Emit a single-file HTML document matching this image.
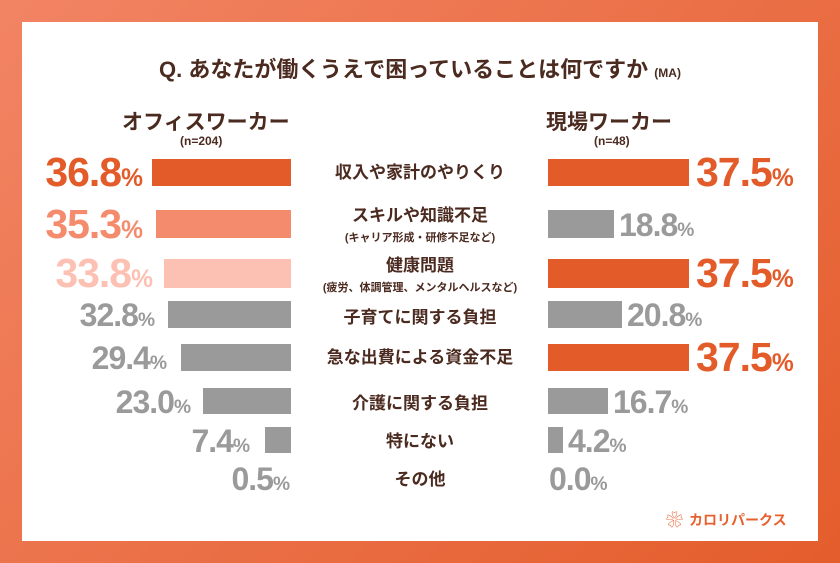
<!DOCTYPE html>
<html><head><meta charset="utf-8"><style>
body{margin:0;width:840px;height:563px;overflow:hidden;background:linear-gradient(135deg,#f28464,#e45d2c);font-family:"Liberation Sans","Noto Sans CJK JP",sans-serif;}
.panel{position:absolute;left:22px;top:22px;width:796px;height:519px;background:#fff;}
.a{position:absolute;white-space:nowrap;}
.t{color:#4b2a1f;font-weight:bold;}
.bar{position:absolute;}
.p{position:absolute;font-weight:bold;white-space:nowrap;line-height:1;letter-spacing:-1px;}
.l{text-align:right;}
.p small{font-size:0.6em;letter-spacing:0;}
.big{font-size:41px;}
.g{font-size:32px;color:#9a9a9a;}
.c{position:absolute;left:290px;width:260px;text-align:center;color:#4b2a1f;font-weight:bold;line-height:1.15;font-size:17px;}
.c span{font-size:11px;}
</style></head><body>
<div class="panel"></div>
<div class="a t" style="left:0;width:840px;text-align:center;top:52px;font-size:22px;">Q. あなたが働くうえで困っていることは何ですか <span style="font-size:12px">(MA)</span></div>
<div class="a t" style="left:122px;top:106px;font-size:21px;">オフィスワーカー</div>
<div class="a t" style="left:180px;top:134px;font-size:12px;">(n=204)</div>
<div class="a t" style="left:546px;top:106px;font-size:21px;">現場ワーカー</div>
<div class="a t" style="left:594px;top:134px;font-size:12px;">(n=48)</div>

<div class="bar" style="left:152px;top:159px;width:139px;height:27px;background:#e35b28"></div>
<div class="bar" style="left:156px;top:210px;width:135px;height:28px;background:#f58b6d"></div>
<div class="bar" style="left:164px;top:259px;width:127px;height:29px;background:#fdc1b4"></div>
<div class="bar" style="left:168px;top:301px;width:123px;height:27px;background:#9a9a9a"></div>
<div class="bar" style="left:181px;top:344px;width:110px;height:27px;background:#9a9a9a"></div>
<div class="bar" style="left:203px;top:388px;width:88px;height:26px;background:#9a9a9a"></div>
<div class="bar" style="left:265px;top:427px;width:26px;height:26px;background:#9a9a9a"></div>

<div class="bar" style="left:548px;top:159px;width:141px;height:27px;background:#e35b28"></div>
<div class="bar" style="left:548px;top:210px;width:66px;height:28px;background:#9a9a9a"></div>
<div class="bar" style="left:548px;top:259px;width:141px;height:29px;background:#e35b28"></div>
<div class="bar" style="left:548px;top:301px;width:74px;height:27px;background:#9a9a9a"></div>
<div class="bar" style="left:548px;top:344px;width:141px;height:27px;background:#e35b28"></div>
<div class="bar" style="left:548px;top:388px;width:60px;height:26px;background:#9a9a9a"></div>
<div class="bar" style="left:548px;top:427px;width:15px;height:26px;background:#9a9a9a"></div>

<div class="p l big" style="right:697px;top:152px;color:#e35b28">36.8<small>%</small></div>
<div class="p l big" style="right:697px;top:204px;color:#f58b6d">35.3<small>%</small></div>
<div class="p l big" style="right:687px;top:253px;color:#fdc1b4">33.8<small>%</small></div>
<div class="p l g" style="right:685px;top:299px;">32.8<small>%</small></div>
<div class="p l g" style="right:673px;top:342px;">29.4<small>%</small></div>
<div class="p l g" style="right:649px;top:386px;">23.0<small>%</small></div>
<div class="p l g" style="right:590px;top:425px;">7.4<small>%</small></div>
<div class="p l g" style="right:550px;top:463px;">0.5<small>%</small></div>

<div class="p big" style="left:696px;top:152px;color:#e35b28">37.5<small>%</small></div>
<div class="p g" style="left:619px;top:209px;">18.8<small>%</small></div>
<div class="p big" style="left:696px;top:253px;color:#e35b28">37.5<small>%</small></div>
<div class="p g" style="left:627px;top:299px;">20.8<small>%</small></div>
<div class="p big" style="left:696px;top:337px;color:#e35b28">37.5<small>%</small></div>
<div class="p g" style="left:613px;top:386px;">16.7<small>%</small></div>
<div class="p g" style="left:568px;top:425px;">4.2<small>%</small></div>
<div class="p g" style="left:549px;top:463px;">0.0<small>%</small></div>

<div class="c" style="top:163px;">収入や家計のやりくり</div>
<div class="c" style="top:206px;">スキルや知識不足<br><span>(キャリア形成・研修不足など)</span></div>
<div class="c" style="top:256px;">健康問題<br><span>(疲労、体調管理、メンタルヘルスなど)</span></div>
<div class="c" style="top:308px;">子育てに関する負担</div>
<div class="c" style="top:348px;">急な出費による資金不足</div>
<div class="c" style="top:394px;">介護に関する負担</div>
<div class="c" style="top:432px;">特にない</div>
<div class="c" style="top:470px;">その他</div>

<div class="a" style="left:666px;top:506px;font-size:17px;color:#e8602e;">&#x2740;</div>
<div class="a" style="left:689px;top:510px;font-size:14px;font-weight:bold;color:#e8602e;">カロリパークス</div>
</body></html>
